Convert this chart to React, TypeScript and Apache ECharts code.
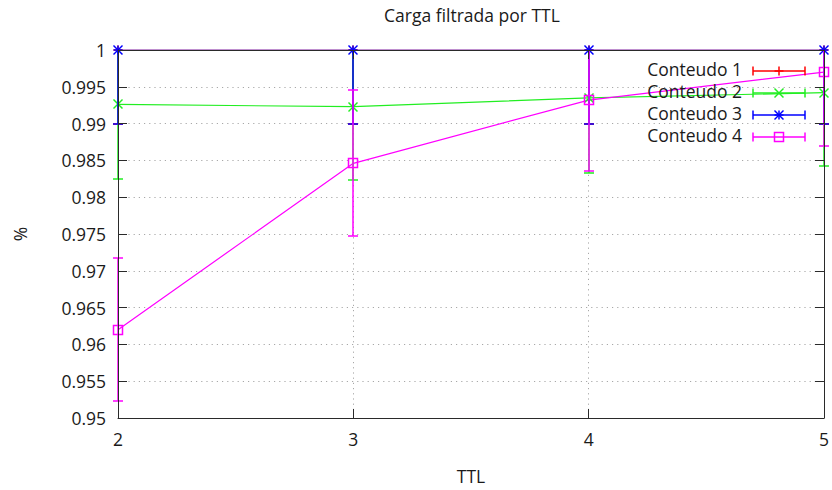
import React, { useEffect, useRef } from "react";
import * as echarts from "echarts";

// TTL values on the x axis
const ttl = [2, 3, 4, 5];

// Filtered load (%) per content, with the half-width of each error bar
const conteudo1 = [1, 1, 1, 1];
const conteudo1Err = [0.01, 0.01, 0.01, 0.01];
const conteudo2 = [0.9926, 0.9923, 0.9935, 0.9942];
const conteudo2Err = [0.0101, 0.0099, 0.0102, 0.0099];
const conteudo3 = [1, 1, 1, 1];
const conteudo3Err = [0.01, 0.01, 0.01, 0.01];
const conteudo4 = [0.962, 0.9846, 0.9932, 0.997];
const conteudo4Err = [0.0097, 0.0099, 0.0096, 0.01];

const seriesNames = ["Conteudo 1", "Conteudo 2", "Conteudo 3", "Conteudo 4"];

const FONT = "'Open Sans', 'Liberation Sans', sans-serif";
const TEXT_COLOR = "#1a1a1a";
const AXIS_COLOR = "#2a2a2a";

type Marker = "plus" | "cross" | "star" | "square";

const SERIES: { name: string; values: number[]; errors: number[]; color: string; marker: Marker }[] = [
  { name: seriesNames[0], values: conteudo1, errors: conteudo1Err, color: "#ff0000", marker: "plus" },
  { name: seriesNames[1], values: conteudo2, errors: conteudo2Err, color: "#22ee22", marker: "cross" },
  { name: seriesNames[2], values: conteudo3, errors: conteudo3Err, color: "#0000ff", marker: "star" },
  { name: seriesNames[3], values: conteudo4, errors: conteudo4Err, color: "#ff00ff", marker: "square" },
];

const CAP = 5; // half width of an error bar cap
const MK = 4.5; // half size of a point marker
const STROKE = 1.5; // stroke width of error bars and point glyphs

// snap to whole pixels
const snap = (v: number) => Math.round(v);

function seg(x1: number, y1: number, x2: number, y2: number, color: string) {
  return {
    type: "line",
    shape: { x1, y1, x2, y2 },
    style: { stroke: color, lineWidth: STROKE, fill: null },
    silent: true,
  };
}

// gnuplot-style point glyphs
function markerEls(kind: Marker, cx: number, cy: number, color: string): any[] {
  const els: any[] = [];
  if (kind === "plus" || kind === "star") {
    els.push(seg(cx - MK, cy, cx + MK, cy, color));
    els.push(seg(cx, cy - MK, cx, cy + MK, color));
  }
  if (kind === "cross" || kind === "star") {
    els.push(seg(cx - MK, cy - MK, cx + MK, cy + MK, color));
    els.push(seg(cx - MK, cy + MK, cx + MK, cy - MK, color));
  }
  if (kind === "square") {
    els.push({
      type: "rect",
      shape: { x: cx - MK, y: cy - MK, width: MK * 2, height: MK * 2 },
      style: { stroke: color, lineWidth: STROKE, fill: "transparent" },
      silent: true,
    });
  }
  return els;
}

function App() {
  const ref = useRef<HTMLDivElement>(null);

  useEffect(() => {
    if (!ref.current) return;
    const chart = echarts.init(ref.current, null, { renderer: "svg" });

    const yMin = 0.95;
    const yMax = 1;
    const yStep = 0.005;
    const fmtY = (v: number) => String(parseFloat(v.toFixed(3)));

    const series: any[] = [];
    SERIES.forEach((s) => {
      series.push({
        type: "line",
        name: s.name,
        data: ttl.map((x, i) => [x, s.values[i]]),
        symbol: "none",
        lineStyle: { color: s.color, width: 1.2 },
        itemStyle: { color: s.color },
        xAxisIndex: 0,
        yAxisIndex: 0,
        z: 2,
      });
      series.push({
        type: "custom",
        name: s.name + " erro",
        data: ttl.map((x, i) => [x, s.values[i], s.errors[i]]),
        xAxisIndex: 0,
        yAxisIndex: 0,
        z: 3,
        silent: true,
        renderItem: (params: any, api: any) => {
          const x = api.value(0);
          const y = api.value(1);
          const e = api.value(2);
          const cs = params.coordSys;
          const top = cs.y;
          const bottom = cs.y + cs.height;
          const c = api.coord([x, y]);
          const px = snap(c[0]);
          const py = snap(c[1]);
          const yHi = snap(api.coord([x, y + e])[1]);
          const yLo = snap(api.coord([x, y - e])[1]);
          const children: any[] = [];
          children.push(seg(px, Math.max(yHi, top), px, Math.min(yLo, bottom), s.color));
          if (yHi >= top - 0.5) children.push(seg(px - CAP, yHi, px + CAP, yHi, s.color));
          if (yLo <= bottom + 0.5) children.push(seg(px - CAP, yLo, px + CAP, yLo, s.color));
          children.push(...markerEls(s.marker, px, py, s.color));
          return { type: "group", children };
        },
      });
    });

    // Key, drawn inside the plot's upper right corner
    const legendEls: any[] = [];
    const keyTextRight = 742;
    const keyLineStart = 753;
    const keyLineEnd = 805;
    const keyRows = [71, 93, 115, 137];
    SERIES.forEach((s, i) => {
      const cy = keyRows[i];
      legendEls.push({
        type: "text",
        x: keyTextRight,
        y: cy - 2,
        style: {
          text: s.name,
          font: `17.5px ${FONT}`,
          fill: TEXT_COLOR,
          textAlign: "right",
          textVerticalAlign: "middle",
        },
        z: 20,
      });
      legendEls.push({ ...seg(keyLineStart, cy, keyLineEnd, cy, s.color), z: 20 });
      legendEls.push({ ...seg(keyLineStart, cy - 4.5, keyLineStart, cy + 4.5, s.color), z: 20 });
      legendEls.push({ ...seg(keyLineEnd, cy - 4.5, keyLineEnd, cy + 4.5, s.color), z: 20 });
      markerEls(s.marker, 779, cy, s.color).forEach((m) => legendEls.push({ ...m, z: 20 }));
    });

    const labelStyle = { color: TEXT_COLOR, fontFamily: FONT, fontSize: 17.5 };

    const option: any = {
      animation: false,
      backgroundColor: "#ffffff",
      title: {
        text: "Carga filtrada por TTL",
        left: 379,
        top: 1,
        textStyle: { ...labelStyle, fontWeight: "normal" },
      },
      grid: { left: 118, right: 6, top: 50, bottom: 68, containLabel: false },
      xAxis: [
        {
          // grid lines only, behind the data
          type: "value",
          min: 2,
          max: 5,
          interval: 1,
          position: "bottom",
          z: 0,
          axisLine: { show: false },
          axisTick: { show: false },
          axisLabel: { show: false },
          splitLine: { show: true, lineStyle: { color: "#a8a8a8", width: 1, type: [1.2, 4] } },
        },
        {
          type: "value",
          min: 2,
          max: 5,
          interval: 1,
          position: "bottom",
          z: 10,
          name: "TTL",
          nameLocation: "middle",
          nameGap: 49,
          nameTextStyle: labelStyle,
          axisLine: { show: true, onZero: false, lineStyle: { color: AXIS_COLOR, width: 1 } },
          axisTick: { show: true, inside: true, length: 9, lineStyle: { color: AXIS_COLOR } },
          axisLabel: { show: true, margin: 12, ...labelStyle },
          splitLine: { show: false },
        },
        {
          type: "value",
          min: 2,
          max: 5,
          interval: 1,
          position: "top",
          z: 10,
          axisLine: { show: true, onZero: false, lineStyle: { color: AXIS_COLOR, width: 1 } },
          axisTick: { show: true, inside: true, length: 9, lineStyle: { color: AXIS_COLOR } },
          axisLabel: { show: false },
          splitLine: { show: false },
        },
      ],
      yAxis: [
        {
          type: "value",
          min: yMin,
          max: yMax,
          interval: yStep,
          position: "left",
          z: 0,
          axisLine: { show: false },
          axisTick: { show: false },
          axisLabel: { show: false },
          splitLine: { show: true, lineStyle: { color: "#a8a8a8", width: 1, type: [1.2, 4] } },
        },
        {
          type: "value",
          min: yMin,
          max: yMax,
          interval: yStep,
          position: "left",
          z: 10,
          name: "%",
          nameLocation: "middle",
          nameGap: 89,
          nameRotate: 90,
          nameTextStyle: labelStyle,
          axisLine: { show: true, onZero: false, lineStyle: { color: AXIS_COLOR, width: 1 } },
          axisTick: { show: true, inside: true, length: 9, lineStyle: { color: AXIS_COLOR } },
          axisLabel: { show: true, margin: 12, formatter: fmtY, ...labelStyle },
          splitLine: { show: false },
        },
        {
          type: "value",
          min: yMin,
          max: yMax,
          interval: yStep,
          position: "right",
          z: 10,
          axisLine: { show: true, onZero: false, lineStyle: { color: AXIS_COLOR, width: 1 } },
          axisTick: { show: true, inside: true, length: 9, lineStyle: { color: AXIS_COLOR } },
          axisLabel: { show: false },
          splitLine: { show: false },
        },
      ],
      series,
      graphic: legendEls,
    };

    chart.setOption(option);
    return () => chart.dispose();
  }, []);

  return <div ref={ref} style={{ width: 832, height: 490, position: "absolute", left: 0, top: 0 }} />;
}

export default App;
